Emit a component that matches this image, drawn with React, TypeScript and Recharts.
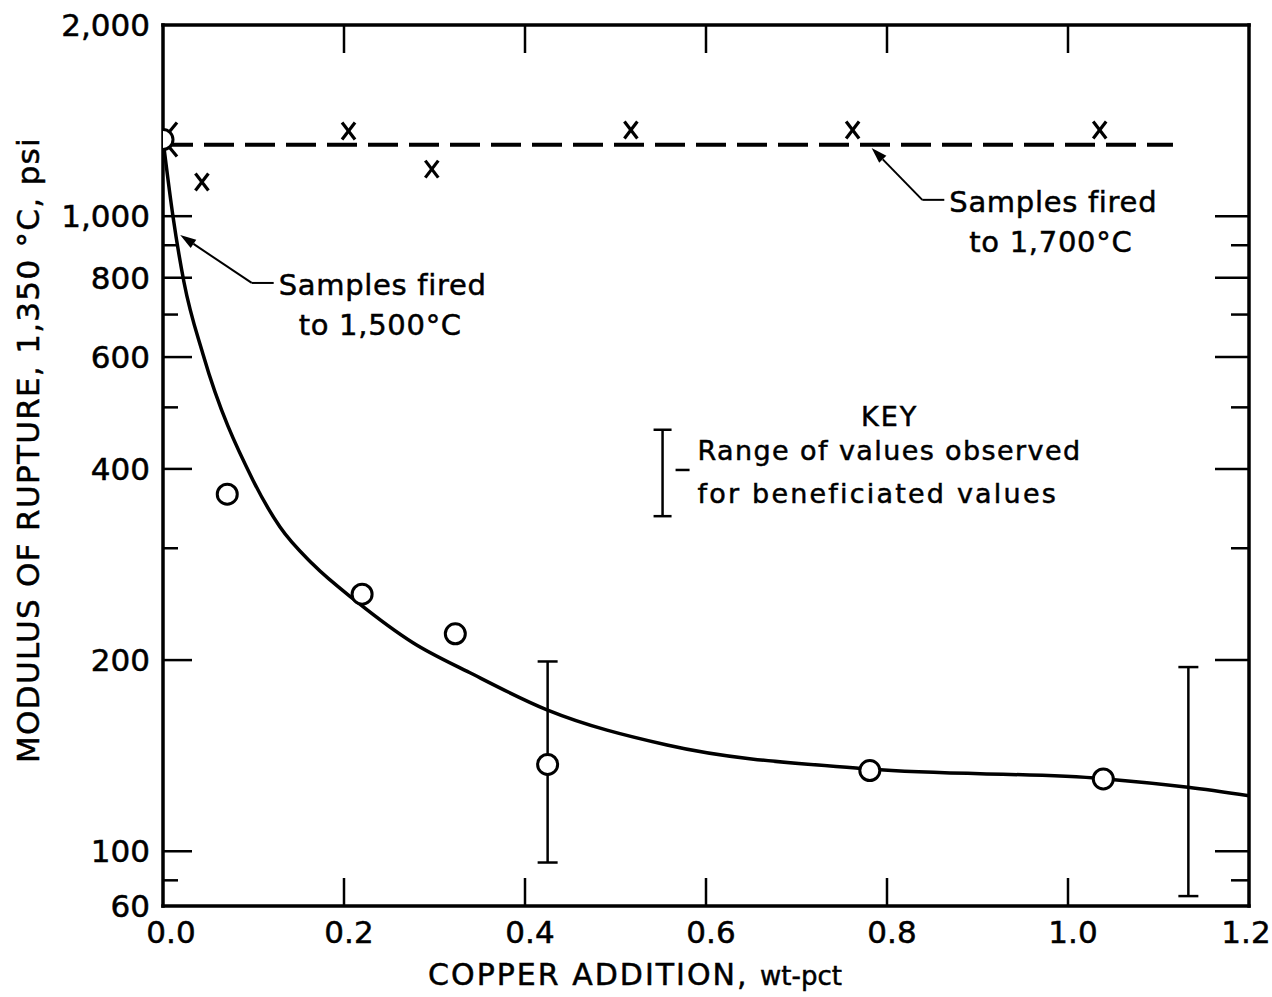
import { ComposedChart, Line, Scatter, XAxis, YAxis, ErrorBar, ReferenceLine, ReferenceDot } from 'recharts';

const FONT = '"DejaVu Sans", sans-serif';

// copper addition, wt-pct
const xTicks = [0, 0.2, 0.4, 0.6, 0.8, 1.0, 1.2];
const xTickLabels = ['0.0', '0.2', '0.4', '0.6', '0.8', '1.0', '1.2'];

// modulus of rupture, psi (log axis, the original marks its bottom end "60")
const yTicks = [82, 90, 100, 200, 300, 400, 500, 600, 700, 800, 900, 1000, 2000];
const yTickLabels = ['60', '', '100', '200', '', '400', '', '600', '', '800', '', '1,000', '2,000'];

// samples fired to 1,500 C (circles)
const fired1500X = [0, 0.071, 0.22, 0.323, 0.425, 0.781, 1.039];
const fired1500Y = [1320, 365, 254, 220, 137, 134, 130];

// samples fired to 1,700 C (x marks) and their dashed level
const fired1700X = [0, 0.043, 0.205, 0.297, 0.517, 0.762, 1.035];
const fired1700Y = [1320, 1132, 1362, 1186, 1367, 1367, 1367];
const level1700X = [0, 1.116];
const level1700Y = [1296, 1296];

// smooth curve through the 1,500 C samples
const curveX = [0, 0.011, 0.0232, 0.0442, 0.0994, 0.1293, 0.1657, 0.2144, 0.2762, 0.3392, 0.4243, 0.5569, 0.7812, 1.0387, 1.1326, 1.2];
const curveY = [1320, 1000, 787, 606, 384, 324, 283, 247, 213, 191, 167, 147, 134.7, 130.1, 126.1, 122.3];

// range of values observed for beneficiated values
const rangeX = [0.425, 1.133];
const rangeLow = [96, 85];
const rangeHigh = [199, 195];

// key sample bar
const keyX = [0.552];
const keyLow = [337];
const keyHigh = [461];

const zip = (xs: number[], ys: number[]) => xs.map((x, i) => ({ x, y: ys[i] }));
const bars = (xs: number[], lo: number[], hi: number[]) =>
  xs.map((x, i) => ({ x, y: lo[i], err: [0, hi[i] - lo[i]] }));

const curve = zip(curveX, curveY);
const level = zip(level1700X, level1700Y);
const circles = zip(fired1500X, fired1500Y);
const crosses = zip(fired1700X, fired1700Y);
const ranges = bars(rangeX, rangeLow, rangeHigh);
const keyBar = bars(keyX, keyLow, keyHigh);

const ink = { fill: '#000', stroke: '#000', strokeWidth: 0.5, fontFamily: FONT };

const LeftTick = (p: any) => {
  const i = yTicks.indexOf(p.payload.value);
  const label = yTickLabels[i] ?? '';
  const ax = p.x + 13;
  const end = i === 0 || i === yTicks.length - 1;
  return (
    <g>
      {!end && <line x1={ax} x2={ax + (label ? 29 : 15)} y1={p.y} y2={p.y} stroke="#000" strokeWidth={2.5} />}
      {label && (
        <text x={p.x} y={p.y} dy="0.36em" textAnchor="end" fontSize={31} {...ink}>
          {label}
        </text>
      )}
    </g>
  );
};

const RightTick = (p: any) => {
  const i = yTicks.indexOf(p.payload.value);
  if (i === 0 || i === yTicks.length - 1) return <g />;
  const len = yTickLabels[i] ? 34 : 18;
  return <line x1={p.x - len} x2={p.x} y1={p.y} y2={p.y} stroke="#000" strokeWidth={2.5} />;
};

const BottomTick = (p: any) => {
  const i = xTicks.indexOf(p.payload.value);
  const last = i === xTicks.length - 1;
  const end = i === 0 || last;
  return (
    <g>
      {!end && <line x1={p.x} x2={p.x} y1={p.y - 28} y2={p.y} stroke="#000" strokeWidth={2.5} />}
      <text x={p.x + (last ? -3 : i === 0 ? 8 : 5)} y={p.y + 37} textAnchor="middle" fontSize={31} {...ink}>
        {xTickLabels[i]}
      </text>
    </g>
  );
};

const TopTick = (p: any) => {
  const i = xTicks.indexOf(p.payload.value);
  if (i === 0 || i === xTicks.length - 1) return <g />;
  return <line x1={p.x} x2={p.x} y1={p.y} y2={p.y + 28} stroke="#000" strokeWidth={2.5} />;
};

const Circle = (p: any) => <circle cx={p.cx} cy={p.cy} r={10} fill="#fff" stroke="#000" strokeWidth={3} />;

const Cross = (p: any) => {
  const big = p.payload && p.payload.x === 0;
  const w = big ? 14 : 6.5;
  const h = big ? 17 : 8.5;
  return (
    <g stroke="#000" strokeWidth={3.2}>
      <line x1={p.cx - w} y1={p.cy - h} x2={p.cx + w} y2={p.cy + h} />
      <line x1={p.cx - w} y1={p.cy + h} x2={p.cx + w} y2={p.cy - h} />
    </g>
  );
};

const Hidden = () => <g />;

// leader line from arrow tip (x1,y1) to elbow (x2,y2), then a short run and the note
const arrowNote = (lines: string[]) => (p: any) => {
  const { x1, y1, x2, y2 } = p;
  const a = Math.atan2(y2 - y1, x2 - x1);
  const bx = x1 + 16 * Math.cos(a);
  const by = y1 + 16 * Math.sin(a);
  const px = -Math.sin(a) * 5;
  const py = Math.cos(a) * 5;
  const run = 22;
  return (
    <g>
      <line x1={bx} y1={by} x2={x2} y2={y2} stroke="#000" strokeWidth={2} />
      <polygon points={`${x1},${y1} ${bx + px},${by + py} ${bx - px},${by - py}`} fill="#000" />
      <line x1={x2} y1={y2} x2={x2 + run} y2={y2} stroke="#000" strokeWidth={2} />
      <text x={x2 + run + 5} y={y2 + 12} fontSize={29} letterSpacing={0.7} {...ink}>
        {lines[0]}
      </text>
      <text x={x2 + run + 25} y={y2 + 52} fontSize={29} letterSpacing={0.7} {...ink}>
        {lines[1]}
      </text>
    </g>
  );
};

const KeyText = (p: any) => (
  <g fontSize={27} letterSpacing={1.4} {...ink}>
    <line x1={p.cx + 13} x2={p.cx + 27} y1={p.cy - 3} y2={p.cy - 3} stroke="#000" strokeWidth={2.5} />
    <text x={p.cx + 227} y={p.cy - 47} textAnchor="middle" letterSpacing={2}>KEY</text>
    <text x={p.cx + 35} y={p.cy - 13}>Range of values observed</text>
    <text x={p.cx + 35} y={p.cy + 30} letterSpacing={2.2}>for beneficiated values</text>
  </g>
);

const XTitle = (p: any) => {
  const vb = p.viewBox;
  return (
    <text x={vb.x + 472} y={vb.y + 79} textAnchor="middle" {...ink}>
      <tspan fontSize={30} letterSpacing={2}>COPPER ADDITION, </tspan>
      <tspan fontSize={26}>wt-pct</tspan>
    </text>
  );
};

const YTitle = (p: any) => {
  const vb = p.viewBox;
  const cx = vb.x - 35;
  const cy = 450;
  return (
    <text x={cx} y={cy} dy="0.36em" textAnchor="middle" transform={`rotate(-90 ${cx} ${cy})`} fontSize={31} letterSpacing={1.3} {...ink}>
      MODULUS OF RUPTURE, 1,350 °C, psi
    </text>
  );
};

const frame = { stroke: '#000', strokeWidth: 3.5, strokeLinecap: 'square' as const };

export default function App() {
  return (
    <div style={{ position: 'absolute', left: 0, top: 0, background: '#fff' }}>
      <ComposedChart width={1272} height={997} margin={{ top: 24, right: 22, bottom: 31, left: 63 }}>
        <XAxis
          xAxisId="b"
          dataKey="x"
          type="number"
          domain={[0, 1.2]}
          allowDataOverflow
          ticks={xTicks}
          interval={0}
          height={60}
          tickSize={0}
          tickMargin={0}
          tickLine={false}
          tick={BottomTick}
          axisLine={frame}
          label={{ content: XTitle }}
        />
        <XAxis
          xAxisId="t"
          orientation="top"
          dataKey="x"
          type="number"
          domain={[0, 1.2]}
          allowDataOverflow
          ticks={xTicks}
          interval={0}
          height={1}
          tickSize={0}
          tickMargin={0}
          tickLine={false}
          tick={TopTick}
          axisLine={frame}
        />
        <YAxis
          yAxisId="l"
          dataKey="y"
          type="number"
          scale="log"
          domain={[82, 2000]}
          allowDataOverflow
          ticks={yTicks}
          interval={0}
          width={100}
          tickSize={0}
          tickMargin={13}
          tickLine={false}
          tick={LeftTick}
          axisLine={frame}
          label={{ content: YTitle }}
        />
        <YAxis
          yAxisId="r"
          orientation="right"
          dataKey="y"
          type="number"
          scale="log"
          domain={[82, 2000]}
          allowDataOverflow
          ticks={yTicks}
          interval={0}
          width={1}
          tickSize={0}
          tickMargin={0}
          tickLine={false}
          tick={RightTick}
          axisLine={frame}
        />

        <Line
          xAxisId="b"
          yAxisId="l"
          data={curve}
          dataKey="y"
          type="monotone"
          stroke="#000"
          strokeWidth={3.5}
          dot={false}
          isAnimationActive={false}
        />
        <Line
          xAxisId="b"
          yAxisId="l"
          data={level}
          dataKey="y"
          type="linear"
          stroke="#000"
          strokeWidth={4}
          strokeDasharray="30 11"
          dot={false}
          isAnimationActive={false}
        />
        <Scatter xAxisId="b" yAxisId="l" data={ranges} dataKey="y" shape={Hidden} isAnimationActive={false}>
          <ErrorBar dataKey="err" direction="y" width={10} stroke="#000" strokeWidth={2.5} isAnimationActive={false} />
        </Scatter>
        <Scatter xAxisId="b" yAxisId="l" data={keyBar} dataKey="y" shape={Hidden} isAnimationActive={false}>
          <ErrorBar dataKey="err" direction="y" width={9} stroke="#000" strokeWidth={2.5} isAnimationActive={false} />
        </Scatter>
        <Scatter xAxisId="b" yAxisId="l" data={crosses} dataKey="y" shape={Cross} isAnimationActive={false} />
        <Scatter xAxisId="b" yAxisId="l" data={circles} dataKey="y" shape={Circle} isAnimationActive={false} />

        <ReferenceLine
          xAxisId="b"
          yAxisId="l"
          segment={[{ x: 0.019, y: 934 }, { x: 0.098, y: 785 }]}
          shape={arrowNote(['Samples fired', 'to 1,500°C'])}
        />
        <ReferenceLine
          xAxisId="b"
          yAxisId="l"
          segment={[{ x: 0.783, y: 1281 }, { x: 0.839, y: 1061 }]}
          shape={arrowNote(['Samples fired', 'to 1,700°C'])}
        />
        <ReferenceDot
          xAxisId="b"
          yAxisId="l"
          x={keyX[0]}
          y={Math.sqrt(keyLow[0] * keyHigh[0])}
          shape={KeyText}
        />
      </ComposedChart>
    </div>
  );
}
